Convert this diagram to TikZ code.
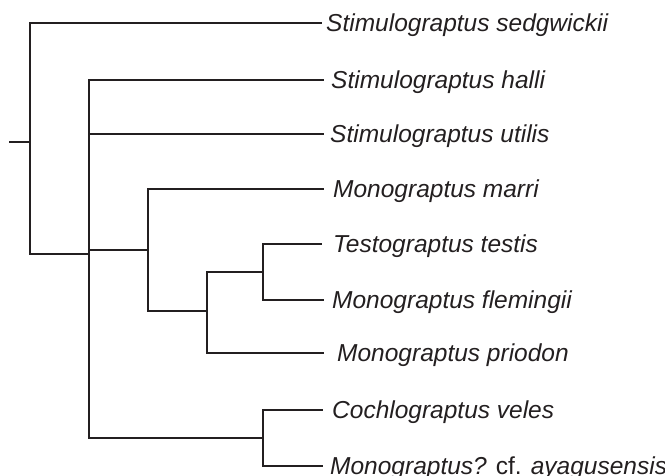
\documentclass[tikz,border=0pt]{standalone}
\usepackage{fontspec}
\setmainfont{Liberation Sans}
\definecolor{ink}{HTML}{231F20}
\begin{document}
\begin{tikzpicture}[x=1pt,y=-1pt,
  branch/.style={draw=ink,line width=1.8pt,line cap=rect},
  taxon/.style={anchor=base west,inner sep=0pt,text=ink,font=\fontsize{24.5}{29}\selectfont\itshape}]
\useasboundingbox (0,0) rectangle (665,476);
% internal nodes
\coordinate (r0) at (10,142);
\coordinate (nA) at (30,142);
\coordinate (nB) at (89,254);
\coordinate (nC) at (148,250);
\coordinate (nD) at (207,311);
\coordinate (nF) at (263,272);
\coordinate (nE) at (263,438);
% tips
\coordinate (t1) at (321,23);
\coordinate (t2) at (323,80);
\coordinate (t3) at (323,134);
\coordinate (t4) at (323,189);
\coordinate (t5) at (321,244);
\coordinate (t6) at (323,300);
\coordinate (t7) at (323,353);
\coordinate (t8) at (322,410);
\coordinate (t9) at (322,466);
% labels
\node[taxon] (l1) at (326,31.5) {Stimulograptus sedgwickii};
\node[taxon] (l2) at (331,88.5) {Stimulograptus halli};
\node[taxon] (l3) at (330,142.5) {Stimulograptus utilis};
\node[taxon] (l4) at (333,197.5) {Monograptus marri};
\node[taxon] (l5) at (333,252.5) {Testograptus testis};
\node[taxon] (l6) at (332,308.5) {Monograptus flemingii};
\node[taxon] (l7) at (337,361.5) {Monograptus priodon};
\node[taxon] (l8) at (332,418.5) {Cochlograptus veles};
\node[taxon] (l9) at (330,474.5) {Monograptus? {\upshape cf.} ayagusensis};
% branches
\draw[branch] (r0) -- (nA);
\draw[branch] (nA) |- (t1);
\draw[branch] (nA) |- (nB);
\draw[branch] (nB) |- (t2);
\draw[branch] (nB) |- (t3);
\draw[branch] (nB) -- (nB|-nC) -- (nC);
\draw[branch] (nB) |- (nE);
\draw[branch] (nC) |- (t4);
\draw[branch] (nC) |- (nD);
\draw[branch] (nD) |- (nF);
\draw[branch] (nD) |- (t7);
\draw[branch] (nF) |- (t5);
\draw[branch] (nF) |- (t6);
\draw[branch] (nE) |- (t8);
\draw[branch] (nE) |- (t9);
\end{tikzpicture}
\end{document}
